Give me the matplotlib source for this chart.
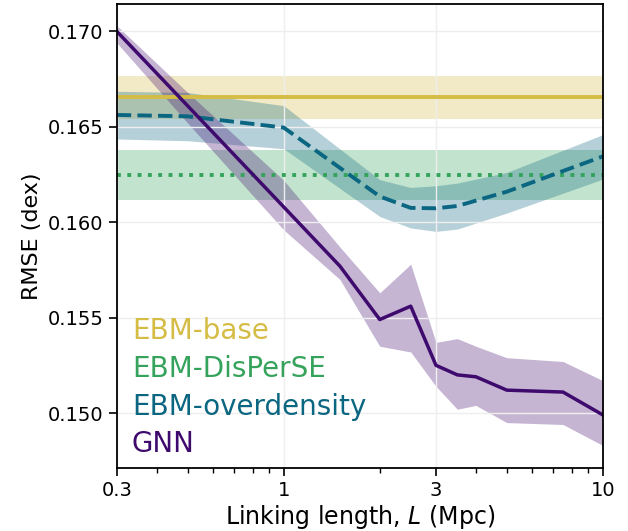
import numpy as np
import matplotlib
matplotlib.use("Agg")
import matplotlib.pyplot as plt
from matplotlib.ticker import FixedLocator, FixedFormatter, NullFormatter, LogLocator

# ---- data ----
gnn_L = [0.3, 0.5, 1.0, 1.5, 2.0, 2.5, 3.0, 3.5, 4.0, 5.0, 7.5, 10.0]
gnn_rmse = [0.1700, 0.1661, 0.1608, 0.1577, 0.1549, 0.1556, 0.1525, 0.1520, 0.1519, 0.1512, 0.1511, 0.1499]
gnn_upper = [0.1703, 0.1668, 0.1622, 0.1587, 0.1563, 0.1578, 0.1537, 0.1539, 0.1535, 0.1529, 0.1527, 0.1517]
gnn_lower = [0.1694, 0.1652, 0.1596, 0.1570, 0.1535, 0.1532, 0.1514, 0.1502, 0.1504, 0.1495, 0.1494, 0.1483]

od_L = [0.3, 0.5, 1.0, 2.0, 2.5, 3.0, 3.5, 5.0, 10.0]
od_rmse = [0.16562, 0.16555, 0.16496, 0.16135, 0.16075, 0.16073, 0.16085, 0.16160, 0.16345]
od_upper = [0.16686, 0.16680, 0.16611, 0.16223, 0.16182, 0.16191, 0.16205, 0.16261, 0.16459]
od_lower = [0.16436, 0.16427, 0.16385, 0.16030, 0.15970, 0.15952, 0.15964, 0.16048, 0.16226]

base_rmse, base_err = 0.16654, 0.00112
disperse_rmse, disperse_err = 0.16245, 0.00131

labels = ["EBM-base", "EBM-DisPerSE", "EBM-overdensity", "GNN"]
xticks = [0.3, 1, 3, 10]
xticklabels = ["0.3", "1", "3", "10"]
yticks = [0.150, 0.155, 0.160, 0.165, 0.170]

c_base = "#d5bc45"
c_disp = "#35a35c"
c_od = "#0b6681"
c_gnn = "#3f0a6e"

fig = plt.figure(figsize=(6.28, 5.31), dpi=100)
ax = fig.add_axes([0.186, 0.119, 0.774, 0.874])

ax.axhspan(base_rmse - base_err, base_rmse + base_err, color=c_base, alpha=0.3, lw=0)
ax.axhline(base_rmse, color=c_base, lw=2.8)
ax.axhspan(disperse_rmse - disperse_err, disperse_rmse + disperse_err, color=c_disp, alpha=0.3, lw=0)
ax.axhline(disperse_rmse, color=c_disp, lw=2.8, ls=":")

ax.fill_between(od_L, od_lower, od_upper, color=c_od, alpha=0.3, lw=0)
ax.plot(od_L, od_rmse, color=c_od, lw=2.8, ls="--")

ax.fill_between(gnn_L, gnn_lower, gnn_upper, color=c_gnn, alpha=0.3, lw=0)
ax.plot(gnn_L, gnn_rmse, color=c_gnn, lw=2.5)

ax.set_xscale("log")
ax.set_xlim(0.3, 10)
ax.set_ylim(0.14713, 0.17145)
ax.xaxis.set_major_locator(FixedLocator(xticks))
ax.xaxis.set_major_formatter(FixedFormatter(xticklabels))
ax.xaxis.set_minor_locator(LogLocator(base=10, subs=np.arange(2, 10)))
ax.xaxis.set_minor_formatter(NullFormatter())
ax.set_yticks(yticks)
ax.set_yticklabels([f"{v:.3f}" for v in yticks])
ax.grid(True, which="major", color="#eeeeee", lw=1)
ax.tick_params(axis="both", which="major", labelsize=14, length=6, width=1.2)
ax.tick_params(axis="x", which="minor", length=3.5, width=1)
for s in ax.spines.values():
    s.set_linewidth(1.3)

ax.set_xlabel("Linking length, $L$ (Mpc)", fontsize=17, labelpad=2)
ax.set_ylabel("RMSE (dex)", fontsize=16)

for i, (lab, col) in enumerate(zip(labels, [c_base, c_disp, c_od, c_gnn])):
    ax.text(0.031, 0.295 - i * 0.0815, lab, color=col, fontsize=20,
            transform=ax.transAxes, va="center", ha="left")

fig.savefig("out.png", dpi=100)
